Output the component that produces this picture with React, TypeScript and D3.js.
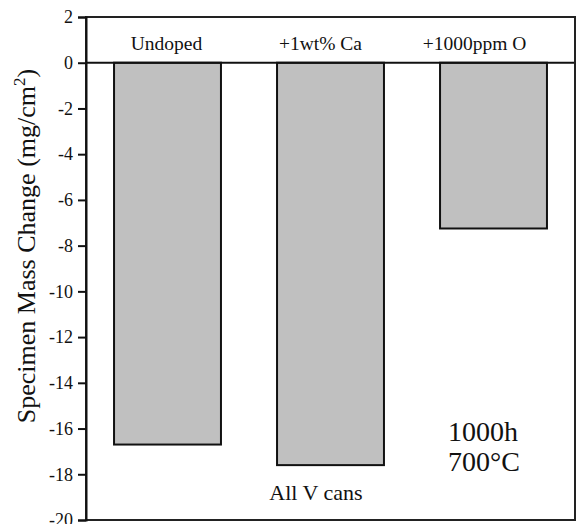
import React, { useEffect, useRef } from 'react';
import * as d3 from 'd3';

const categories = ['Undoped', '+1wt% Ca', '+1000ppm O'];
const massChange = [-16.7, -17.6, -7.25];
const yTicks = [2, 0, -2, -4, -6, -8, -10, -12, -14, -16, -18, -20];

const App = () => {
  const ref = useRef<SVGSVGElement>(null);

  useEffect(() => {
    const svg = d3.select(ref.current);
    svg.selectAll('*').remove();

    const width = 577;
    const height = 524;
    const margin = { top: 17, right: 2, bottom: 4, left: 86 };

    const x = d3.scaleBand()
      .domain(categories)
      .range([margin.left, width - margin.right])
      .paddingInner(0.344)
      .paddingOuter(0.172);

    // header labels sit a little left of the bar centres, drifting more to the right
    const xLabel = d3.scalePoint()
      .domain(categories)
      .range([x(categories[0]) + x.bandwidth() / 2 - 1, x(categories[2]) + x.bandwidth() / 2 - 19]);

    const y = d3.scaleLinear()
      .domain([-20, 2])
      .range([height - margin.bottom, margin.top]);

    // bars
    svg.append('g')
      .selectAll('rect')
      .data(categories)
      .join('rect')
      .attr('x', d => x(d))
      .attr('width', x.bandwidth())
      .attr('y', y(0))
      .attr('height', (d, i) => y(massChange[i]) - y(0))
      .attr('fill', '#c0c0c0')
      .attr('stroke', '#111')
      .attr('stroke-width', 2);

    // zero line
    svg.append('line')
      .attr('x1', margin.left).attr('x2', width - margin.right)
      .attr('y1', y(0)).attr('y2', y(0))
      .attr('stroke', '#111').attr('stroke-width', 2);

    // frame
    svg.append('rect')
      .attr('x', margin.left).attr('y', margin.top)
      .attr('width', width - margin.right - margin.left)
      .attr('height', height - margin.bottom - margin.top)
      .attr('fill', 'none').attr('stroke', '#222').attr('stroke-width', 2);

    // y axis
    const yAxis = svg.append('g')
      .attr('transform', `translate(${margin.left},0)`)
      .call(d3.axisLeft(y).tickValues(yTicks).tickSize(8).tickPadding(5).tickFormat(d => String(d)));
    yAxis.attr('font-family', null).attr('font-size', null);
    yAxis.select('.domain').attr('stroke', '#111').attr('stroke-width', 2);
    yAxis.selectAll('.tick line').attr('stroke', '#111').attr('stroke-width', 2);
    yAxis.selectAll('.tick text')
      .style('font-size', '18px').attr('fill', '#111');

    // category labels
    svg.append('g')
      .selectAll('text')
      .data(categories)
      .join('text')
      .attr('x', d => xLabel(d))
      .attr('y', 50)
      .attr('text-anchor', 'middle')
      .style('font-size', '19.5px').attr('fill', '#111')
      .text(d => d);

    // y label
    const yl = svg.append('text')
      .attr('transform', `translate(35,246) rotate(-90)`)
      .attr('text-anchor', 'middle')
      .style('font-size', '26px').attr('fill', '#111');
    yl.append('tspan').text('Specimen Mass Change (mg/cm');
    yl.append('tspan').attr('dy', -10).style('font-size', '17px').text('2');
    yl.append('tspan').attr('dy', 10).text(')');

    // annotations
    svg.append('text')
      .attr('x', 316).attr('y', 500)
      .attr('text-anchor', 'middle')
      .style('font-size', '22px').attr('fill', '#111')
      .text('All V cans');

    svg.append('text')
      .attr('x', 483).attr('y', 441)
      .attr('text-anchor', 'middle')
      .style('font-size', '28px').attr('fill', '#111')
      .text('1000h');
    svg.append('text')
      .attr('x', 484).attr('y', 471)
      .attr('text-anchor', 'middle')
      .style('font-size', '28px').attr('fill', '#111')
      .text('700°C');
  }, []);

  return (
    <svg ref={ref} width={577} height={524}
      style={{ position: 'absolute', left: 0, top: 0, background: '#fff',
        fontFamily: "'Liberation Serif', 'Times New Roman', serif" }} />
  );
};

export default App;
